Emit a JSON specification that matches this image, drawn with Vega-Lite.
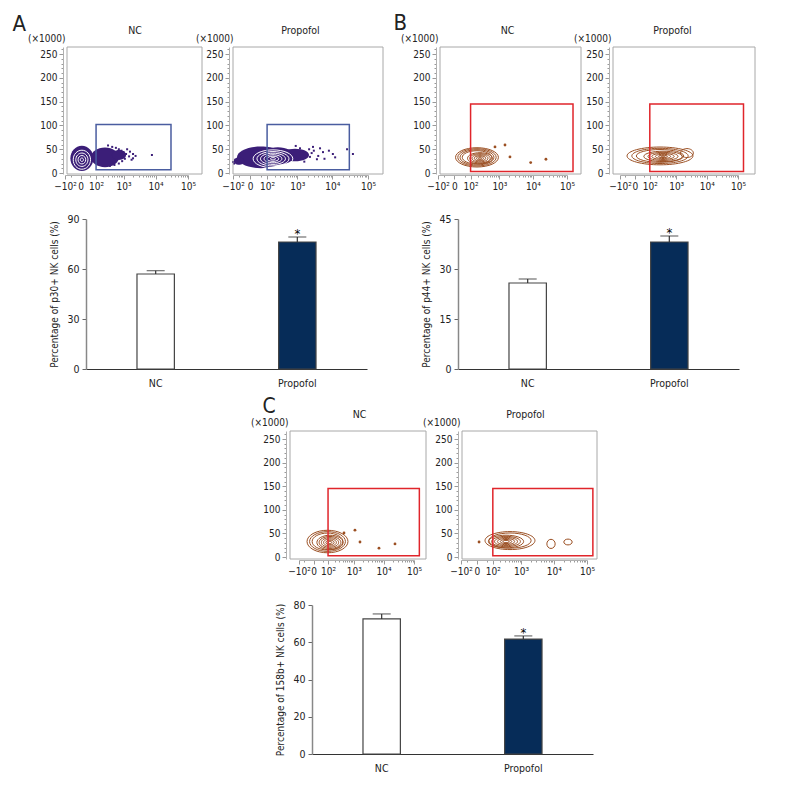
{
  "$schema": "https://vega.github.io/schema/vega-lite/v6.json",
  "width": 792,
  "height": 804,
  "autosize": {"type": "none"},
  "padding": 0,
  "config": {
    "font": "Liberation Sans Narrow, DejaVu Sans Condensed, sans-serif",
    "axis": {"labelFont": "Liberation Sans Narrow, DejaVu Sans Condensed, sans-serif", "titleFont": "Liberation Sans Narrow, DejaVu Sans Condensed, sans-serif", "labelColor": "#222", "titleColor": "#222", "grid": false},
    "view": {"stroke": null}
  },
  "resolve": {"scale": {"x": "independent", "y": "independent"}, "axis": {"x": "independent", "y": "independent"}},
  "datasets": {
    "aNC": [
      {"kind": "gate", "x": 100, "x2": 30000, "y": 7, "y2": 102},
      {"kind": "blob", "x": 5, "y": 31, "spread": 0.36, "form": "round"},
      {"kind": "blob", "x": 232, "y": 33, "spread": 0.44, "form": "oval"},
      {"kind": "blob", "x": 710, "y": 38, "spread": 0.22, "form": "oval"},
      {"kind": "ring", "x": 5, "y": 28, "spread": 0.27, "form": "round"},
      {"kind": "ring", "x": 5, "y": 28, "spread": 0.19, "form": "round"},
      {"kind": "ring", "x": 5, "y": 28, "spread": 0.12, "form": "round"},
      {"kind": "ring", "x": 5, "y": 28, "spread": 0.05, "form": "round"},
      {"kind": "dot", "x": 300, "y": 58}, {"kind": "dot", "x": 420, "y": 55}, {"kind": "dot", "x": 560, "y": 53},
      {"kind": "dot", "x": 700, "y": 50}, {"kind": "dot", "x": 850, "y": 47}, {"kind": "dot", "x": 1000, "y": 44},
      {"kind": "dot", "x": 1200, "y": 40}, {"kind": "dot", "x": 1300, "y": 50}, {"kind": "dot", "x": 1600, "y": 45},
      {"kind": "dot", "x": 2000, "y": 40}, {"kind": "dot", "x": 2000, "y": 31}, {"kind": "dot", "x": 1100, "y": 30},
      {"kind": "dot", "x": 900, "y": 25}, {"kind": "dot", "x": 700, "y": 20}, {"kind": "dot", "x": 500, "y": 17},
      {"kind": "dot", "x": 350, "y": 15}, {"kind": "dot", "x": 7750, "y": 38}, {"kind": "dot", "x": 1500, "y": 35},
      {"kind": "dot", "x": 2400, "y": 36}, {"kind": "dot", "x": 1800, "y": 28}
    ],
    "aProp": [
      {"kind": "gate", "x": 100, "x2": 30000, "y": 7, "y2": 102},
      {"kind": "blob", "x": 51, "y": 33, "spread": 0.75, "form": "flat"},
      {"kind": "blob", "x": 250, "y": 36, "spread": 0.5, "form": "mid"},
      {"kind": "blob", "x": 855, "y": 38, "spread": 0.44, "form": "flat"},
      {"kind": "blob", "x": -52, "y": 25, "spread": 0.16, "form": "oval"},
      {"kind": "ring", "x": 169, "y": 30, "spread": 0.62, "form": "flat"},
      {"kind": "ring", "x": 169, "y": 30, "spread": 0.5, "form": "flat"},
      {"kind": "ring", "x": 169, "y": 30, "spread": 0.39, "form": "flat"},
      {"kind": "ring", "x": 169, "y": 30, "spread": 0.28, "form": "flat"},
      {"kind": "ring", "x": 169, "y": 30, "spread": 0.18, "form": "flat"},
      {"kind": "ring", "x": 169, "y": 30, "spread": 0.08, "form": "flat"},
      {"kind": "dot", "x": 2836, "y": 55}, {"kind": "dot", "x": 5450, "y": 44}, {"kind": "dot", "x": 10350, "y": 40},
      {"kind": "dot", "x": 25900, "y": 50}, {"kind": "dot", "x": 37800, "y": 40}, {"kind": "dot", "x": -100, "y": 23},
      {"kind": "dot", "x": 2320, "y": 34}, {"kind": "dot", "x": 3670, "y": 29}, {"kind": "dot", "x": 1500, "y": 45},
      {"kind": "dot", "x": 1800, "y": 38}, {"kind": "dot", "x": 2200, "y": 50}, {"kind": "dot", "x": 1300, "y": 30},
      {"kind": "dot", "x": 2600, "y": 42}, {"kind": "dot", "x": 3000, "y": 47}, {"kind": "dot", "x": 4000, "y": 36},
      {"kind": "dot", "x": 4500, "y": 52}, {"kind": "dot", "x": 1200, "y": 52}, {"kind": "dot", "x": 900, "y": 57},
      {"kind": "dot", "x": 6000, "y": 30}, {"kind": "dot", "x": 8000, "y": 47}, {"kind": "dot", "x": 12000, "y": 33},
      {"kind": "dot", "x": 1600, "y": 24}, {"kind": "dot", "x": -80, "y": 28}, {"kind": "dot", "x": -90, "y": 20}
    ],
    "bNC": [
      {"kind": "gate", "x": 100, "x2": 150000, "y": 3, "y2": 145},
      {"kind": "ring", "x": 181, "y": 33, "spread": 0.67, "form": "flat"},
      {"kind": "ring", "x": 181, "y": 33, "spread": 0.6, "form": "flat"},
      {"kind": "ring", "x": 181, "y": 33, "spread": 0.53, "form": "flat"},
      {"kind": "ring", "x": 181, "y": 33, "spread": 0.46, "form": "flat"},
      {"kind": "ring", "x": 233, "y": 31, "spread": 0.39, "form": "flat"},
      {"kind": "ring", "x": 233, "y": 31, "spread": 0.32, "form": "flat"},
      {"kind": "ring", "x": 233, "y": 31, "spread": 0.25, "form": "flat"},
      {"kind": "ring", "x": 233, "y": 31, "spread": 0.18, "form": "flat"},
      {"kind": "ring", "x": 233, "y": 31, "spread": 0.11, "form": "flat"},
      {"kind": "ring", "x": 233, "y": 31, "spread": 0.05, "form": "flat"},
      {"kind": "dot", "x": 728, "y": 55}, {"kind": "dot", "x": 1477, "y": 59}, {"kind": "dot", "x": 2088, "y": 34},
      {"kind": "dot", "x": 8590, "y": 22}, {"kind": "dot", "x": 24100, "y": 29}
    ],
    "bProp": [
      {"kind": "gate", "x": 100, "x2": 150000, "y": 3, "y2": 145},
      {"kind": "ring", "x": 268, "y": 36, "spread": 1.03, "form": "long"},
      {"kind": "ring", "x": 268, "y": 36, "spread": 0.88, "form": "long"},
      {"kind": "ring", "x": 268, "y": 36, "spread": 0.74, "form": "long"},
      {"kind": "ring", "x": 347, "y": 35, "spread": 0.6, "form": "long"},
      {"kind": "ring", "x": 347, "y": 35, "spread": 0.47, "form": "long"},
      {"kind": "ring", "x": 347, "y": 35, "spread": 0.35, "form": "long"},
      {"kind": "ring", "x": 347, "y": 35, "spread": 0.24, "form": "long"},
      {"kind": "ring", "x": 347, "y": 35, "spread": 0.14, "form": "long"},
      {"kind": "ring", "x": 347, "y": 35, "spread": 0.06, "form": "long"},
      {"kind": "ring", "x": 2270, "y": 42, "spread": 0.2, "form": "oval"}
    ],
    "cNC": [
      {"kind": "gate", "x": 100, "x2": 150000, "y": 3, "y2": 145},
      {"kind": "ring", "x": 94, "y": 33, "spread": 0.64, "form": "mid"},
      {"kind": "ring", "x": 94, "y": 33, "spread": 0.56, "form": "mid"},
      {"kind": "ring", "x": 94, "y": 33, "spread": 0.48, "form": "mid"},
      {"kind": "ring", "x": 124, "y": 31, "spread": 0.41, "form": "mid"},
      {"kind": "ring", "x": 124, "y": 31, "spread": 0.34, "form": "mid"},
      {"kind": "ring", "x": 124, "y": 31, "spread": 0.27, "form": "mid"},
      {"kind": "ring", "x": 124, "y": 31, "spread": 0.2, "form": "mid"},
      {"kind": "ring", "x": 124, "y": 31, "spread": 0.13, "form": "mid"},
      {"kind": "ring", "x": 124, "y": 31, "spread": 0.06, "form": "mid"},
      {"kind": "dot", "x": 451, "y": 51}, {"kind": "dot", "x": 1100, "y": 57}, {"kind": "dot", "x": 1630, "y": 32},
      {"kind": "dot", "x": 7025, "y": 19}, {"kind": "dot", "x": 23700, "y": 28}
    ],
    "cProp": [
      {"kind": "gate", "x": 100, "x2": 150000, "y": 3, "y2": 145},
      {"kind": "ring", "x": 441, "y": 35, "spread": 0.78, "form": "slim"},
      {"kind": "ring", "x": 441, "y": 35, "spread": 0.66, "form": "slim"},
      {"kind": "ring", "x": 323, "y": 33, "spread": 0.55, "form": "slim"},
      {"kind": "ring", "x": 323, "y": 33, "spread": 0.45, "form": "slim"},
      {"kind": "ring", "x": 323, "y": 33, "spread": 0.36, "form": "slim"},
      {"kind": "ring", "x": 323, "y": 33, "spread": 0.27, "form": "slim"},
      {"kind": "ring", "x": 323, "y": 33, "spread": 0.18, "form": "slim"},
      {"kind": "ring", "x": 323, "y": 33, "spread": 0.1, "form": "slim"},
      {"kind": "ring", "x": 8285, "y": 28, "spread": 0.13, "form": "round"},
      {"kind": "ring", "x": 26900, "y": 32, "spread": 0.13, "form": "oval"},
      {"kind": "dot", "x": 8, "y": 32}
    ],
    "barA": [
      {"group": "NC", "value": 57, "upper": 59, "sig": ""},
      {"group": "Propofol", "value": 76.2, "upper": 79.2, "sig": "*"}
    ],
    "barB": [
      {"group": "NC", "value": 25.8, "upper": 27, "sig": ""},
      {"group": "Propofol", "value": 38.1, "upper": 39.9, "sig": "*"}
    ],
    "barC": [
      {"group": "NC", "value": 72.5, "upper": 75.2, "sig": ""},
      {"group": "Propofol", "value": 61.7, "upper": 63.4, "sig": "*"}
    ],
    "frame": [{"box": "frame"}]
  },
  "layer": [
    {
      "data": {"name": "aNC"},
      "encoding": {
        "x": {"field": "x", "type": "quantitative", "scale": {"type": "symlog", "constant": 50, "domain": [-100, 100000], "range": [65, 188], "nice": false, "zero": false},
          "axis": {"orient": "bottom", "offset": -629, "title": null, "values": [-100,-50,0,50,100,200,300,400,500,600,700,800,900,1000,2000,3000,4000,5000,6000,7000,8000,9000,10000,20000,30000,40000,50000,60000,70000,80000,90000,100000], "labelExpr": "datum.value == -100 ? '−10²' : datum.value == 0 ? '0' : datum.value == 100 ? '10²' : datum.value == 1000 ? '10³' : datum.value == 10000 ? '10⁴' : datum.value == 100000 ? '10⁵' : ''", "tickSize": {"condition": {"test": "indexof([-100,0,100,1000,10000,100000], datum.value) >= 0", "value": 4}, "value": 2}, "tickColor": "#9a9a9a", "domainColor": "#b0b0b0", "labelFontSize": 10, "labelOverlap": false, "labelFlush": false, "labelPadding": 2}},
        "y": {"field": "y", "type": "quantitative", "scale": {"domain": [-2, 265], "range": [174, 47], "nice": false, "zero": false},
          "axis": {"orient": "left", "offset": -63, "title": "(×1000)", "titleAngle": 0, "titleAlign": "right", "titleBaseline": "alphabetic", "titleX": 2, "titleY": 41, "titleFontSize": 10, "titleFontWeight": "normal", "values": [0,10,20,30,40,50,60,70,80,90,100,110,120,130,140,150,160,170,180,190,200,210,220,230,240,250,260], "labelExpr": "datum.value % 50 === 0 ? datum.label : ''", "tickSize": {"condition": {"test": "datum.value % 50 === 0", "value": 4}, "value": 2}, "tickColor": "#9a9a9a", "domainColor": "#b0b0b0", "labelFontSize": 10, "labelOverlap": false, "labelPadding": 2}}
      },
      "layer": [
        {"transform": [{"filter": "datum.kind === 'blob'"}], "mark": {"type": "point", "filled": true, "color": "#3b1e78", "opacity": 1},
          "encoding": {"size": {"field": "spread", "type": "quantitative", "scale": {"type": "pow", "exponent": 2, "domain": [0, 1], "range": [0, 4096], "zero": true}, "legend": null},
            "shape": {"field": "form", "type": "nominal", "scale": {"domain": ["round","oval","mid","flat","slim","long"], "range": ["M-1,0A1,1.1,0,1,0,1,0A1,1.1,0,1,0,-1,0Z","M-1,0A1,0.7,0,1,0,1,0A1,0.7,0,1,0,-1,0Z","M-1,0A1,0.55,0,1,0,1,0A1,0.55,0,1,0,-1,0Z","M-1,0A1,0.45,0,1,0,1,0A1,0.45,0,1,0,-1,0Z","M-1,0A1,0.36,0,1,0,1,0A1,0.36,0,1,0,-1,0Z","M-1,0A1,0.27,0,1,0,1,0A1,0.27,0,1,0,-1,0Z"]}, "legend": null}}},
        {"transform": [{"filter": "datum.kind === 'dot'"}], "mark": {"type": "square", "size": 4, "color": "#3b1e78", "opacity": 1}, "encoding": {}},
        {"transform": [{"filter": "datum.kind === 'ring'"}], "mark": {"type": "point", "filled": false, "color": "white", "strokeWidth": 1, "opacity": 1},
          "encoding": {"size": {"field": "spread", "type": "quantitative", "scale": {"type": "pow", "exponent": 2, "domain": [0, 1], "range": [0, 4096], "zero": true}, "legend": null},
            "shape": {"field": "form", "type": "nominal", "scale": {"domain": ["round","oval","mid","flat","slim","long"], "range": ["M-1,0A1,1.1,0,1,0,1,0A1,1.1,0,1,0,-1,0Z","M-1,0A1,0.7,0,1,0,1,0A1,0.7,0,1,0,-1,0Z","M-1,0A1,0.55,0,1,0,1,0A1,0.55,0,1,0,-1,0Z","M-1,0A1,0.45,0,1,0,1,0A1,0.45,0,1,0,-1,0Z","M-1,0A1,0.36,0,1,0,1,0A1,0.36,0,1,0,-1,0Z","M-1,0A1,0.27,0,1,0,1,0A1,0.27,0,1,0,-1,0Z"]}, "legend": null}}},
        {"transform": [{"filter": "datum.kind === 'gate'"}], "mark": {"type": "rect", "fillOpacity": 0, "stroke": "#4a5da0", "strokeWidth": 1.5}, "encoding": {"x2": {"field": "x2"}, "y2": {"field": "y2"}}},
        {"data": {"values": [{"marker": "p30"}]}, "mark": {"type": "text", "fontWeight": "bold", "align": "left", "baseline": "middle", "fontSize": 11}, "encoding": {"x": {"datum": -35}, "y": {"datum": 244}, "text": {"field": "marker"}}}
      ]
    },
    {
      "data": {"name": "frame"},
      "mark": {"type": "rect", "fillOpacity": 0, "stroke": "#a8a8a8", "strokeWidth": 1},
      "encoding": {
        "x": {"datum": 0, "type": "quantitative", "scale": {"domain": [0, 1], "range": [67, 202]}, "axis": {"orient": "top", "offset": -47, "domain": false, "ticks": false, "labels": false, "title": "NC", "titleFontSize": 10.5, "titleFontWeight": "normal", "titlePadding": 12}},
        "x2": {"datum": 1},
        "y": {"datum": 0, "type": "quantitative", "scale": {"domain": [0, 1], "range": [174, 47]}, "axis": {"orient": "left", "offset": -67, "domain": false, "ticks": false, "labels": false, "title": "A", "titleAngle": 0, "titleAlign": "left", "titleBaseline": "alphabetic", "titleX": -55, "titleY": 30, "titleFontSize": 22, "titleFontWeight": "normal"}},
        "y2": {"datum": 1}
      }
    },
    {
      "data": {"name": "aProp"},
      "encoding": {
        "x": {"field": "x", "type": "quantitative", "scale": {"type": "symlog", "constant": 50, "domain": [-100, 100000], "range": [233, 368], "nice": false, "zero": false},
          "axis": {"orient": "bottom", "offset": -629, "title": null, "values": [-100,-50,0,50,100,200,300,400,500,600,700,800,900,1000,2000,3000,4000,5000,6000,7000,8000,9000,10000,20000,30000,40000,50000,60000,70000,80000,90000,100000], "labelExpr": "datum.value == -100 ? '−10²' : datum.value == 0 ? '0' : datum.value == 100 ? '10²' : datum.value == 1000 ? '10³' : datum.value == 10000 ? '10⁴' : datum.value == 100000 ? '10⁵' : ''", "tickSize": {"condition": {"test": "indexof([-100,0,100,1000,10000,100000], datum.value) >= 0", "value": 4}, "value": 2}, "tickColor": "#9a9a9a", "domainColor": "#b0b0b0", "labelFontSize": 10, "labelOverlap": false, "labelFlush": false, "labelPadding": 2}},
        "y": {"field": "y", "type": "quantitative", "scale": {"domain": [-2, 265], "range": [174, 47], "nice": false, "zero": false},
          "axis": {"orient": "left", "offset": -229, "title": "(×1000)", "titleAngle": 0, "titleAlign": "right", "titleBaseline": "alphabetic", "titleX": 4, "titleY": 41, "titleFontSize": 10, "titleFontWeight": "normal", "values": [0,10,20,30,40,50,60,70,80,90,100,110,120,130,140,150,160,170,180,190,200,210,220,230,240,250,260], "labelExpr": "datum.value % 50 === 0 ? datum.label : ''", "tickSize": {"condition": {"test": "datum.value % 50 === 0", "value": 4}, "value": 2}, "tickColor": "#9a9a9a", "domainColor": "#b0b0b0", "labelFontSize": 10, "labelOverlap": false, "labelPadding": 2}}
      },
      "layer": [
        {"transform": [{"filter": "datum.kind === 'blob'"}], "mark": {"type": "point", "filled": true, "color": "#3b1e78", "opacity": 1},
          "encoding": {"size": {"field": "spread", "type": "quantitative", "scale": {"type": "pow", "exponent": 2, "domain": [0, 1], "range": [0, 4096], "zero": true}, "legend": null},
            "shape": {"field": "form", "type": "nominal", "scale": {"domain": ["round","oval","mid","flat","slim","long"], "range": ["M-1,0A1,1.1,0,1,0,1,0A1,1.1,0,1,0,-1,0Z","M-1,0A1,0.7,0,1,0,1,0A1,0.7,0,1,0,-1,0Z","M-1,0A1,0.55,0,1,0,1,0A1,0.55,0,1,0,-1,0Z","M-1,0A1,0.45,0,1,0,1,0A1,0.45,0,1,0,-1,0Z","M-1,0A1,0.36,0,1,0,1,0A1,0.36,0,1,0,-1,0Z","M-1,0A1,0.27,0,1,0,1,0A1,0.27,0,1,0,-1,0Z"]}, "legend": null}}},
        {"transform": [{"filter": "datum.kind === 'dot'"}], "mark": {"type": "square", "size": 4, "color": "#3b1e78", "opacity": 1}, "encoding": {}},
        {"transform": [{"filter": "datum.kind === 'ring'"}], "mark": {"type": "point", "filled": false, "color": "white", "strokeWidth": 1, "opacity": 1},
          "encoding": {"size": {"field": "spread", "type": "quantitative", "scale": {"type": "pow", "exponent": 2, "domain": [0, 1], "range": [0, 4096], "zero": true}, "legend": null},
            "shape": {"field": "form", "type": "nominal", "scale": {"domain": ["round","oval","mid","flat","slim","long"], "range": ["M-1,0A1,1.1,0,1,0,1,0A1,1.1,0,1,0,-1,0Z","M-1,0A1,0.7,0,1,0,1,0A1,0.7,0,1,0,-1,0Z","M-1,0A1,0.55,0,1,0,1,0A1,0.55,0,1,0,-1,0Z","M-1,0A1,0.45,0,1,0,1,0A1,0.45,0,1,0,-1,0Z","M-1,0A1,0.36,0,1,0,1,0A1,0.36,0,1,0,-1,0Z","M-1,0A1,0.27,0,1,0,1,0A1,0.27,0,1,0,-1,0Z"]}, "legend": null}}},
        {"transform": [{"filter": "datum.kind === 'gate'"}], "mark": {"type": "rect", "fillOpacity": 0, "stroke": "#4a5da0", "strokeWidth": 1.5}, "encoding": {"x2": {"field": "x2"}, "y2": {"field": "y2"}}},
        {"data": {"values": [{"marker": "p30"}]}, "mark": {"type": "text", "fontWeight": "bold", "align": "left", "baseline": "middle", "fontSize": 11}, "encoding": {"x": {"datum": -40}, "y": {"datum": 244}, "text": {"field": "marker"}}}
      ]
    },
    {
      "data": {"name": "frame"},
      "mark": {"type": "rect", "fillOpacity": 0, "stroke": "#a8a8a8", "strokeWidth": 1},
      "encoding": {
        "x": {"datum": 0, "type": "quantitative", "scale": {"domain": [0, 1], "range": [233, 383]}, "axis": {"orient": "top", "offset": -47, "domain": false, "ticks": false, "labels": false, "title": "Propofol", "titleX": 300, "titleFontSize": 10.5, "titleFontWeight": "normal", "titlePadding": 12}},
        "x2": {"datum": 1},
        "y": {"datum": 0, "type": "quantitative", "scale": {"domain": [0, 1], "range": [174, 47]}, "axis": null},
        "y2": {"datum": 1}
      }
    },
    {
      "data": {"name": "bNC"},
      "encoding": {
        "x": {"field": "x", "type": "quantitative", "scale": {"type": "symlog", "constant": 50, "domain": [-100, 100000], "range": [438, 567], "nice": false, "zero": false},
          "axis": {"orient": "bottom", "offset": -629, "title": null, "values": [-100,-50,0,50,100,200,300,400,500,600,700,800,900,1000,2000,3000,4000,5000,6000,7000,8000,9000,10000,20000,30000,40000,50000,60000,70000,80000,90000,100000], "labelExpr": "datum.value == -100 ? '−10²' : datum.value == 0 ? '0' : datum.value == 100 ? '10²' : datum.value == 1000 ? '10³' : datum.value == 10000 ? '10⁴' : datum.value == 100000 ? '10⁵' : ''", "tickSize": {"condition": {"test": "indexof([-100,0,100,1000,10000,100000], datum.value) >= 0", "value": 4}, "value": 2}, "tickColor": "#9a9a9a", "domainColor": "#b0b0b0", "labelFontSize": 10, "labelOverlap": false, "labelFlush": false, "labelPadding": 2}},
        "y": {"field": "y", "type": "quantitative", "scale": {"domain": [-2, 265], "range": [174, 47], "nice": false, "zero": false},
          "axis": {"orient": "left", "offset": -436, "title": "(×1000)", "titleAngle": 0, "titleAlign": "right", "titleBaseline": "alphabetic", "titleX": 2, "titleY": 41, "titleFontSize": 10, "titleFontWeight": "normal", "values": [0,10,20,30,40,50,60,70,80,90,100,110,120,130,140,150,160,170,180,190,200,210,220,230,240,250,260], "labelExpr": "datum.value % 50 === 0 ? datum.label : ''", "tickSize": {"condition": {"test": "datum.value % 50 === 0", "value": 4}, "value": 2}, "tickColor": "#9a9a9a", "domainColor": "#b0b0b0", "labelFontSize": 10, "labelOverlap": false, "labelPadding": 2}}
      },
      "layer": [
        {"transform": [{"filter": "datum.kind === 'ring'"}], "mark": {"type": "point", "filled": false, "color": "#9b4f22", "strokeWidth": 1, "opacity": 1},
          "encoding": {"size": {"field": "spread", "type": "quantitative", "scale": {"type": "pow", "exponent": 2, "domain": [0, 1], "range": [0, 4096], "zero": true}, "legend": null},
            "shape": {"field": "form", "type": "nominal", "scale": {"domain": ["round","oval","mid","flat","slim","long"], "range": ["M-1,0A1,1.1,0,1,0,1,0A1,1.1,0,1,0,-1,0Z","M-1,0A1,0.7,0,1,0,1,0A1,0.7,0,1,0,-1,0Z","M-1,0A1,0.55,0,1,0,1,0A1,0.55,0,1,0,-1,0Z","M-1,0A1,0.45,0,1,0,1,0A1,0.45,0,1,0,-1,0Z","M-1,0A1,0.36,0,1,0,1,0A1,0.36,0,1,0,-1,0Z","M-1,0A1,0.27,0,1,0,1,0A1,0.27,0,1,0,-1,0Z"]}, "legend": null}}},
        {"transform": [{"filter": "datum.kind === 'dot'"}], "mark": {"type": "circle", "size": 8, "color": "#9b4f22", "opacity": 1}, "encoding": {}},
        {"transform": [{"filter": "datum.kind === 'gate'"}], "mark": {"type": "rect", "fillOpacity": 0, "stroke": "#e0252b", "strokeWidth": 1.5}, "encoding": {"x2": {"field": "x2"}, "y2": {"field": "y2"}}},
        {"data": {"values": [{"marker": "p44"}]}, "mark": {"type": "text", "fontWeight": "bold", "align": "left", "baseline": "middle", "fontSize": 11}, "encoding": {"x": {"datum": -65}, "y": {"datum": 244}, "text": {"field": "marker"}}}
      ]
    },
    {
      "data": {"name": "frame"},
      "mark": {"type": "rect", "fillOpacity": 0, "stroke": "#a8a8a8", "strokeWidth": 1},
      "encoding": {
        "x": {"datum": 0, "type": "quantitative", "scale": {"domain": [0, 1], "range": [440, 581]}, "axis": {"orient": "top", "offset": -47, "domain": false, "ticks": false, "labels": false, "title": "NC", "titleX": 507, "titleFontSize": 10.5, "titleFontWeight": "normal", "titlePadding": 12}},
        "x2": {"datum": 1},
        "y": {"datum": 0, "type": "quantitative", "scale": {"domain": [0, 1], "range": [174, 47]}, "axis": {"orient": "left", "offset": -440, "domain": false, "ticks": false, "labels": false, "title": "B", "titleAngle": 0, "titleAlign": "left", "titleBaseline": "alphabetic", "titleX": -47, "titleY": 29, "titleFontSize": 22, "titleFontWeight": "normal"}},
        "y2": {"datum": 1}
      }
    },
    {
      "data": {"name": "bProp"},
      "encoding": {
        "x": {"field": "x", "type": "quantitative", "scale": {"type": "symlog", "constant": 50, "domain": [-100, 100000], "range": [620, 738], "nice": false, "zero": false},
          "axis": {"orient": "bottom", "offset": -629, "title": null, "values": [-100,-50,0,50,100,200,300,400,500,600,700,800,900,1000,2000,3000,4000,5000,6000,7000,8000,9000,10000,20000,30000,40000,50000,60000,70000,80000,90000,100000], "labelExpr": "datum.value == -100 ? '−10²' : datum.value == 0 ? '0' : datum.value == 100 ? '10²' : datum.value == 1000 ? '10³' : datum.value == 10000 ? '10⁴' : datum.value == 100000 ? '10⁵' : ''", "tickSize": {"condition": {"test": "indexof([-100,0,100,1000,10000,100000], datum.value) >= 0", "value": 4}, "value": 2}, "tickColor": "#9a9a9a", "domainColor": "#b0b0b0", "labelFontSize": 10, "labelOverlap": false, "labelFlush": false, "labelPadding": 2}},
        "y": {"field": "y", "type": "quantitative", "scale": {"domain": [-2, 265], "range": [174, 47], "nice": false, "zero": false},
          "axis": {"orient": "left", "offset": -609, "title": "(×1000)", "titleAngle": 0, "titleAlign": "right", "titleBaseline": "alphabetic", "titleX": 2, "titleY": 41, "titleFontSize": 10, "titleFontWeight": "normal", "values": [0,10,20,30,40,50,60,70,80,90,100,110,120,130,140,150,160,170,180,190,200,210,220,230,240,250,260], "labelExpr": "datum.value % 50 === 0 ? datum.label : ''", "tickSize": {"condition": {"test": "datum.value % 50 === 0", "value": 4}, "value": 2}, "tickColor": "#9a9a9a", "domainColor": "#b0b0b0", "labelFontSize": 10, "labelOverlap": false, "labelPadding": 2}}
      },
      "layer": [
        {"transform": [{"filter": "datum.kind === 'ring'"}], "mark": {"type": "point", "filled": false, "color": "#9b4f22", "strokeWidth": 1, "opacity": 1},
          "encoding": {"size": {"field": "spread", "type": "quantitative", "scale": {"type": "pow", "exponent": 2, "domain": [0, 1], "range": [0, 4096], "zero": true}, "legend": null},
            "shape": {"field": "form", "type": "nominal", "scale": {"domain": ["round","oval","mid","flat","slim","long"], "range": ["M-1,0A1,1.1,0,1,0,1,0A1,1.1,0,1,0,-1,0Z","M-1,0A1,0.7,0,1,0,1,0A1,0.7,0,1,0,-1,0Z","M-1,0A1,0.55,0,1,0,1,0A1,0.55,0,1,0,-1,0Z","M-1,0A1,0.45,0,1,0,1,0A1,0.45,0,1,0,-1,0Z","M-1,0A1,0.36,0,1,0,1,0A1,0.36,0,1,0,-1,0Z","M-1,0A1,0.27,0,1,0,1,0A1,0.27,0,1,0,-1,0Z"]}, "legend": null}}},
        {"transform": [{"filter": "datum.kind === 'gate'"}], "mark": {"type": "rect", "fillOpacity": 0, "stroke": "#e0252b", "strokeWidth": 1.5}, "encoding": {"x2": {"field": "x2"}, "y2": {"field": "y2"}}},
        {"data": {"values": [{"marker": "p44"}]}, "mark": {"type": "text", "fontWeight": "bold", "align": "left", "baseline": "middle", "fontSize": 11}, "encoding": {"x": {"datum": -137}, "y": {"datum": 244}, "text": {"field": "marker"}}}
      ]
    },
    {
      "data": {"name": "frame"},
      "mark": {"type": "rect", "fillOpacity": 0, "stroke": "#a8a8a8", "strokeWidth": 1},
      "encoding": {
        "x": {"datum": 0, "type": "quantitative", "scale": {"domain": [0, 1], "range": [613, 755]}, "axis": {"orient": "top", "offset": -47, "domain": false, "ticks": false, "labels": false, "title": "Propofol", "titleX": 672, "titleFontSize": 10.5, "titleFontWeight": "normal", "titlePadding": 12}},
        "x2": {"datum": 1},
        "y": {"datum": 0, "type": "quantitative", "scale": {"domain": [0, 1], "range": [174, 47]}, "axis": null},
        "y2": {"datum": 1}
      }
    },
    {
      "data": {"name": "cNC"},
      "encoding": {
        "x": {"field": "x", "type": "quantitative", "scale": {"type": "symlog", "constant": 50, "domain": [-100, 100000], "range": [299, 414], "nice": false, "zero": false},
          "axis": {"orient": "bottom", "offset": -244, "title": null, "values": [-100,-50,0,50,100,200,300,400,500,600,700,800,900,1000,2000,3000,4000,5000,6000,7000,8000,9000,10000,20000,30000,40000,50000,60000,70000,80000,90000,100000], "labelExpr": "datum.value == -100 ? '−10²' : datum.value == 0 ? '0' : datum.value == 100 ? '10²' : datum.value == 1000 ? '10³' : datum.value == 10000 ? '10⁴' : datum.value == 100000 ? '10⁵' : ''", "tickSize": {"condition": {"test": "indexof([-100,0,100,1000,10000,100000], datum.value) >= 0", "value": 4}, "value": 2}, "tickColor": "#9a9a9a", "domainColor": "#b0b0b0", "labelFontSize": 10, "labelOverlap": false, "labelFlush": false, "labelPadding": 2}},
        "y": {"field": "y", "type": "quantitative", "scale": {"domain": [-4, 267], "range": [559, 431], "nice": false, "zero": false},
          "axis": {"orient": "left", "offset": -286, "title": "(×1000)", "titleAngle": 0, "titleAlign": "right", "titleBaseline": "alphabetic", "titleX": 2, "titleY": 425, "titleFontSize": 10, "titleFontWeight": "normal", "values": [0,10,20,30,40,50,60,70,80,90,100,110,120,130,140,150,160,170,180,190,200,210,220,230,240,250,260], "labelExpr": "datum.value % 50 === 0 ? datum.label : ''", "tickSize": {"condition": {"test": "datum.value % 50 === 0", "value": 4}, "value": 2}, "tickColor": "#9a9a9a", "domainColor": "#b0b0b0", "labelFontSize": 10, "labelOverlap": false, "labelPadding": 2}}
      },
      "layer": [
        {"transform": [{"filter": "datum.kind === 'ring'"}], "mark": {"type": "point", "filled": false, "color": "#9b4f22", "strokeWidth": 1, "opacity": 1},
          "encoding": {"size": {"field": "spread", "type": "quantitative", "scale": {"type": "pow", "exponent": 2, "domain": [0, 1], "range": [0, 4096], "zero": true}, "legend": null},
            "shape": {"field": "form", "type": "nominal", "scale": {"domain": ["round","oval","mid","flat","slim","long"], "range": ["M-1,0A1,1.1,0,1,0,1,0A1,1.1,0,1,0,-1,0Z","M-1,0A1,0.7,0,1,0,1,0A1,0.7,0,1,0,-1,0Z","M-1,0A1,0.55,0,1,0,1,0A1,0.55,0,1,0,-1,0Z","M-1,0A1,0.45,0,1,0,1,0A1,0.45,0,1,0,-1,0Z","M-1,0A1,0.36,0,1,0,1,0A1,0.36,0,1,0,-1,0Z","M-1,0A1,0.27,0,1,0,1,0A1,0.27,0,1,0,-1,0Z"]}, "legend": null}}},
        {"transform": [{"filter": "datum.kind === 'dot'"}], "mark": {"type": "circle", "size": 8, "color": "#9b4f22", "opacity": 1}, "encoding": {}},
        {"transform": [{"filter": "datum.kind === 'gate'"}], "mark": {"type": "rect", "fillOpacity": 0, "stroke": "#e0252b", "strokeWidth": 1.5}, "encoding": {"x2": {"field": "x2"}, "y2": {"field": "y2"}}},
        {"data": {"values": [{"marker": "p158b"}]}, "mark": {"type": "text", "fontWeight": "bold", "align": "left", "baseline": "middle", "fontSize": 11}, "encoding": {"x": {"datum": -153}, "y": {"datum": 244}, "text": {"field": "marker"}}}
      ]
    },
    {
      "data": {"name": "frame"},
      "mark": {"type": "rect", "fillOpacity": 0, "stroke": "#a8a8a8", "strokeWidth": 1},
      "encoding": {
        "x": {"datum": 0, "type": "quantitative", "scale": {"domain": [0, 1], "range": [290, 426]}, "axis": {"orient": "top", "offset": -431, "domain": false, "ticks": false, "labels": false, "title": "NC", "titleX": 359, "titleFontSize": 10.5, "titleFontWeight": "normal", "titlePadding": 12}},
        "x2": {"datum": 1},
        "y": {"datum": 0, "type": "quantitative", "scale": {"domain": [0, 1], "range": [559, 431]}, "axis": {"orient": "left", "offset": -290, "domain": false, "ticks": false, "labels": false, "title": "C", "titleAngle": 0, "titleAlign": "left", "titleBaseline": "alphabetic", "titleX": -28, "titleY": 412, "titleFontSize": 21, "titleFontWeight": "normal"}},
        "y2": {"datum": 1}
      }
    },
    {
      "data": {"name": "cProp"},
      "encoding": {
        "x": {"field": "x", "type": "quantitative", "scale": {"type": "symlog", "constant": 50, "domain": [-100, 100000], "range": [461, 587], "nice": false, "zero": false},
          "axis": {"orient": "bottom", "offset": -244, "title": null, "values": [-100,-50,0,50,100,200,300,400,500,600,700,800,900,1000,2000,3000,4000,5000,6000,7000,8000,9000,10000,20000,30000,40000,50000,60000,70000,80000,90000,100000], "labelExpr": "datum.value == -100 ? '−10²' : datum.value == 0 ? '0' : datum.value == 100 ? '10²' : datum.value == 1000 ? '10³' : datum.value == 10000 ? '10⁴' : datum.value == 100000 ? '10⁵' : ''", "tickSize": {"condition": {"test": "indexof([-100,0,100,1000,10000,100000], datum.value) >= 0", "value": 4}, "value": 2}, "tickColor": "#9a9a9a", "domainColor": "#b0b0b0", "labelFontSize": 10, "labelOverlap": false, "labelFlush": false, "labelPadding": 2}},
        "y": {"field": "y", "type": "quantitative", "scale": {"domain": [-4, 267], "range": [559, 431], "nice": false, "zero": false},
          "axis": {"orient": "left", "offset": -458, "title": "(×1000)", "titleAngle": 0, "titleAlign": "right", "titleBaseline": "alphabetic", "titleX": 2, "titleY": 425, "titleFontSize": 10, "titleFontWeight": "normal", "values": [0,10,20,30,40,50,60,70,80,90,100,110,120,130,140,150,160,170,180,190,200,210,220,230,240,250,260], "labelExpr": "datum.value % 50 === 0 ? datum.label : ''", "tickSize": {"condition": {"test": "datum.value % 50 === 0", "value": 4}, "value": 2}, "tickColor": "#9a9a9a", "domainColor": "#b0b0b0", "labelFontSize": 10, "labelOverlap": false, "labelPadding": 2}}
      },
      "layer": [
        {"transform": [{"filter": "datum.kind === 'ring'"}], "mark": {"type": "point", "filled": false, "color": "#9b4f22", "strokeWidth": 1, "opacity": 1},
          "encoding": {"size": {"field": "spread", "type": "quantitative", "scale": {"type": "pow", "exponent": 2, "domain": [0, 1], "range": [0, 4096], "zero": true}, "legend": null},
            "shape": {"field": "form", "type": "nominal", "scale": {"domain": ["round","oval","mid","flat","slim","long"], "range": ["M-1,0A1,1.1,0,1,0,1,0A1,1.1,0,1,0,-1,0Z","M-1,0A1,0.7,0,1,0,1,0A1,0.7,0,1,0,-1,0Z","M-1,0A1,0.55,0,1,0,1,0A1,0.55,0,1,0,-1,0Z","M-1,0A1,0.45,0,1,0,1,0A1,0.45,0,1,0,-1,0Z","M-1,0A1,0.36,0,1,0,1,0A1,0.36,0,1,0,-1,0Z","M-1,0A1,0.27,0,1,0,1,0A1,0.27,0,1,0,-1,0Z"]}, "legend": null}}},
        {"transform": [{"filter": "datum.kind === 'dot'"}], "mark": {"type": "circle", "size": 8, "color": "#9b4f22", "opacity": 1}, "encoding": {}},
        {"transform": [{"filter": "datum.kind === 'gate'"}], "mark": {"type": "rect", "fillOpacity": 0, "stroke": "#e0252b", "strokeWidth": 1.5}, "encoding": {"x2": {"field": "x2"}, "y2": {"field": "y2"}}},
        {"data": {"values": [{"marker": "p158b"}]}, "mark": {"type": "text", "fontWeight": "bold", "align": "left", "baseline": "middle", "fontSize": 11}, "encoding": {"x": {"datum": -56}, "y": {"datum": 244}, "text": {"field": "marker"}}}
      ]
    },
    {
      "data": {"name": "frame"},
      "mark": {"type": "rect", "fillOpacity": 0, "stroke": "#a8a8a8", "strokeWidth": 1},
      "encoding": {
        "x": {"datum": 0, "type": "quantitative", "scale": {"domain": [0, 1], "range": [462, 597]}, "axis": {"orient": "top", "offset": -431, "domain": false, "ticks": false, "labels": false, "title": "Propofol", "titleX": 525, "titleFontSize": 10.5, "titleFontWeight": "normal", "titlePadding": 12}},
        "x2": {"datum": 1},
        "y": {"datum": 0, "type": "quantitative", "scale": {"domain": [0, 1], "range": [559, 431]}, "axis": null},
        "y2": {"datum": 1}
      }
    },
    {
      "data": {"name": "barA"},
      "encoding": {"x": {"field": "group", "type": "nominal", "sort": null, "scale": {"range": [86, 367], "paddingInner": 0.736, "paddingOuter": 0.36}, "axis": {"orient": "bottom", "offset": -435, "title": null, "labelAngle": 0, "ticks": false, "domainColor": "#333", "domainWidth": 1.2, "labelPadding": 9, "labelFontSize": 10.5}}},
      "layer": [
        {"mark": {"type": "bar", "stroke": "#444", "strokeWidth": 1.2}, "encoding": {
          "y": {"field": "value", "type": "quantitative", "scale": {"domain": [0, 90], "range": [369, 219]}, "axis": {"orient": "left", "offset": -86, "values": [0, 30, 60, 90], "title": "Percentage of p30+ NK cells (%)", "titleFontSize": 10, "titleFontWeight": "normal", "titlePadding": 7, "labelFontSize": 10.5, "domainColor": "#888", "domainWidth": 1.5, "tickColor": "#666", "tickSize": 4, "labelPadding": 3}},
          "fill": {"field": "group", "type": "nominal", "scale": {"domain": ["NC", "Propofol"], "range": ["#ffffff", "#062c58"]}, "legend": null}}},
        {"mark": {"type": "rule", "color": "#333", "strokeWidth": 1.2}, "encoding": {"y": {"field": "value", "type": "quantitative"}, "y2": {"field": "upper"}}},
        {"mark": {"type": "tick", "color": "#333", "thickness": 1.2, "size": 18}, "encoding": {"y": {"field": "upper", "type": "quantitative"}}},
        {"mark": {"type": "text", "fontSize": 13, "baseline": "alphabetic", "dy": 1}, "encoding": {"y": {"field": "upper", "type": "quantitative"}, "text": {"field": "sig"}}}
      ]
    },
    {
      "data": {"name": "barB"},
      "encoding": {"x": {"field": "group", "type": "nominal", "sort": null, "scale": {"range": [458, 739], "paddingInner": 0.736, "paddingOuter": 0.36}, "axis": {"orient": "bottom", "offset": -435, "title": null, "labelAngle": 0, "ticks": false, "domainColor": "#333", "domainWidth": 1.2, "labelPadding": 9, "labelFontSize": 10.5}}},
      "layer": [
        {"mark": {"type": "bar", "stroke": "#444", "strokeWidth": 1.2}, "encoding": {
          "y": {"field": "value", "type": "quantitative", "scale": {"domain": [0, 45], "range": [369, 219]}, "axis": {"orient": "left", "offset": -458, "values": [0, 15, 30, 45], "title": "Percentage of p44+ NK cells (%)", "titleFontSize": 10, "titleFontWeight": "normal", "titlePadding": 7, "labelFontSize": 10.5, "domainColor": "#888", "domainWidth": 1.5, "tickColor": "#666", "tickSize": 4, "labelPadding": 3}},
          "fill": {"field": "group", "type": "nominal", "scale": {"domain": ["NC", "Propofol"], "range": ["#ffffff", "#062c58"]}, "legend": null}}},
        {"mark": {"type": "rule", "color": "#333", "strokeWidth": 1.2}, "encoding": {"y": {"field": "value", "type": "quantitative"}, "y2": {"field": "upper"}}},
        {"mark": {"type": "tick", "color": "#333", "thickness": 1.2, "size": 18}, "encoding": {"y": {"field": "upper", "type": "quantitative"}}},
        {"mark": {"type": "text", "fontSize": 13, "baseline": "alphabetic", "dy": 1}, "encoding": {"y": {"field": "upper", "type": "quantitative"}, "text": {"field": "sig"}}}
      ]
    },
    {
      "data": {"name": "barC"},
      "encoding": {"x": {"field": "group", "type": "nominal", "sort": null, "scale": {"range": [312, 593], "paddingInner": 0.736, "paddingOuter": 0.36}, "axis": {"orient": "bottom", "offset": -50, "title": null, "labelAngle": 0, "ticks": false, "domainColor": "#333", "domainWidth": 1.2, "labelPadding": 9, "labelFontSize": 10.5}}},
      "layer": [
        {"mark": {"type": "bar", "stroke": "#444", "strokeWidth": 1.2}, "encoding": {
          "y": {"field": "value", "type": "quantitative", "scale": {"domain": [0, 80], "range": [754, 605]}, "axis": {"orient": "left", "offset": -312, "values": [0, 20, 40, 60, 80], "title": "Percentage of 158b+ NK cells (%)", "titleFontSize": 10, "titleFontWeight": "normal", "titlePadding": 7, "labelFontSize": 10.5, "domainColor": "#888", "domainWidth": 1.5, "tickColor": "#666", "tickSize": 4, "labelPadding": 3}},
          "fill": {"field": "group", "type": "nominal", "scale": {"domain": ["NC", "Propofol"], "range": ["#ffffff", "#062c58"]}, "legend": null}}},
        {"mark": {"type": "rule", "color": "#333", "strokeWidth": 1.2}, "encoding": {"y": {"field": "value", "type": "quantitative"}, "y2": {"field": "upper"}}},
        {"mark": {"type": "tick", "color": "#333", "thickness": 1.2, "size": 18}, "encoding": {"y": {"field": "upper", "type": "quantitative"}}},
        {"mark": {"type": "text", "fontSize": 13, "baseline": "alphabetic", "dy": 1}, "encoding": {"y": {"field": "upper", "type": "quantitative"}, "text": {"field": "sig"}}}
      ]
    }
  ]
}
